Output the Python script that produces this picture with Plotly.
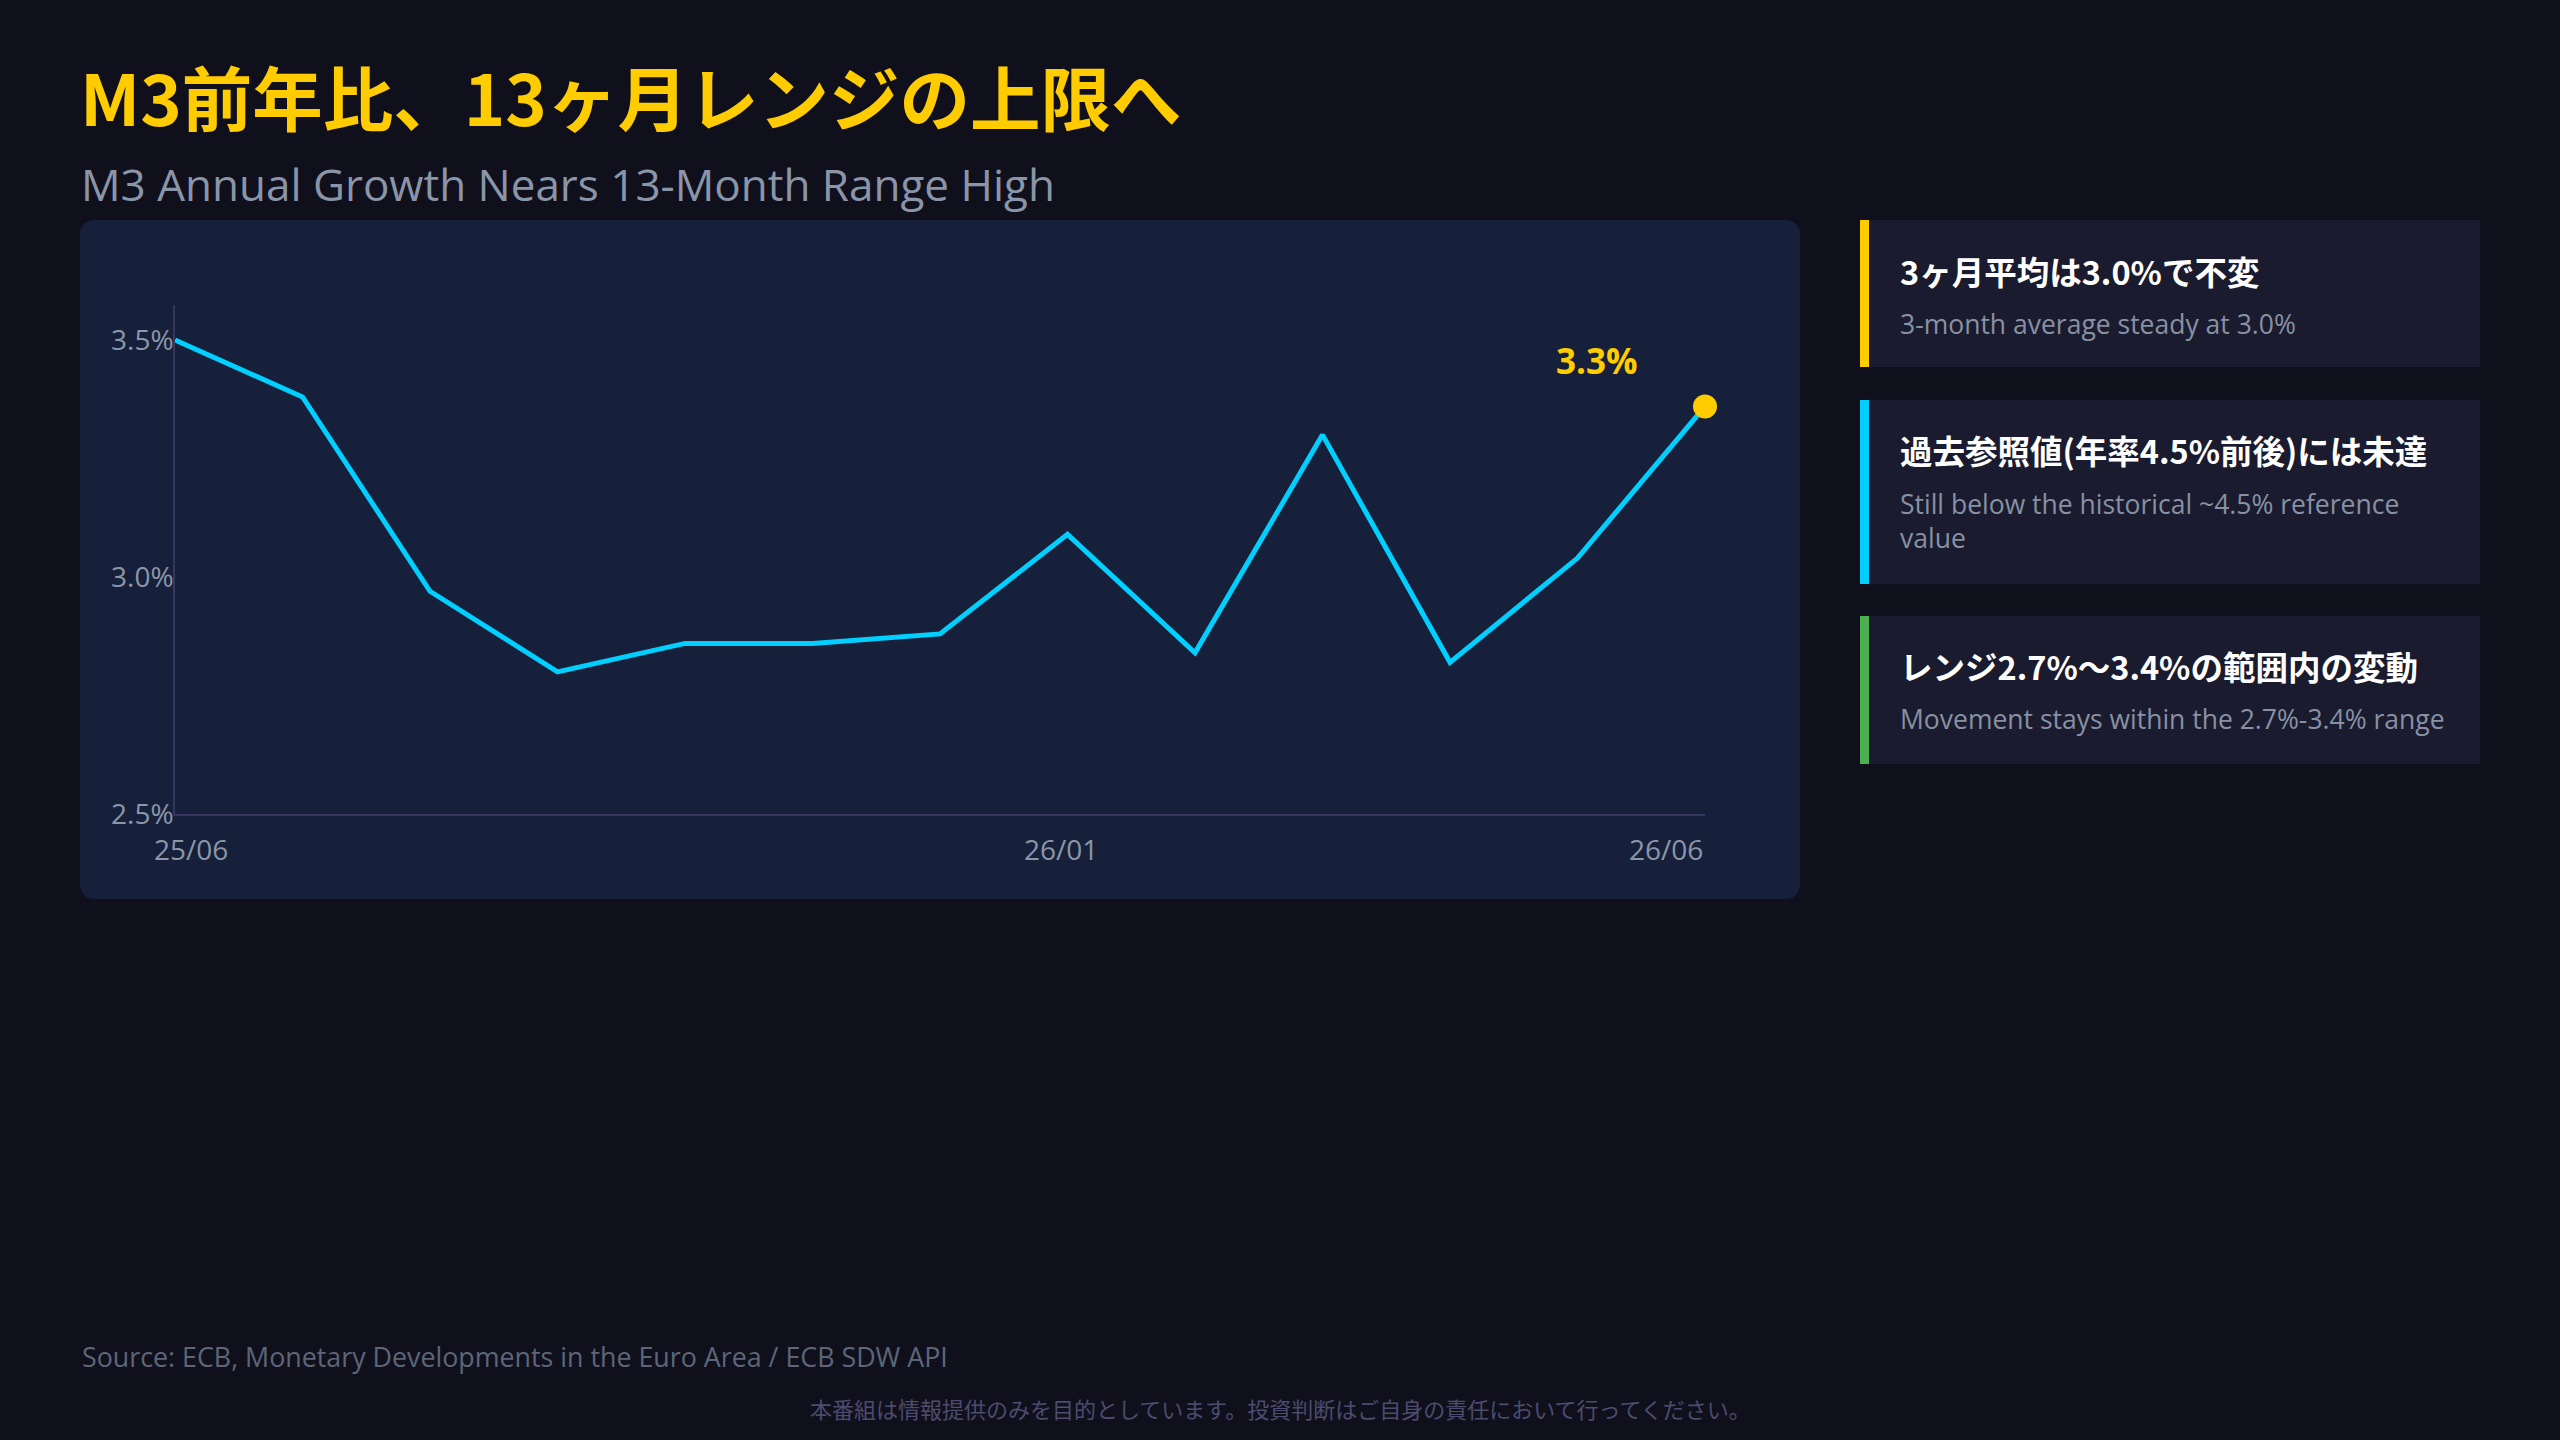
import plotly.graph_objects as go

# ---------------- data ----------------
months = ['25/06', '25/07', '25/08', '25/09', '25/10', '25/11', '25/12',
          '26/01', '26/02', '26/03', '26/04', '26/05', '26/06']
m3_yoy = [3.50, 3.38, 2.97, 2.80, 2.86, 2.86, 2.88, 3.09, 2.84, 3.30, 2.82, 3.04, 3.36]
latest_label = '3.3%'
xtick_idx = [0, 7, 12]
ytick_vals = [2.5, 3.0, 3.5]
ytick_text = ['2.5%', '3.0%', '3.5%']

title_jp = 'M3前年比、13ヶ月レンジの上限へ'
title_en = 'M3 Annual Growth Nears 13-Month Range High'
card_titles = ['3ヶ月平均は3.0%で不変',
               '過去参照値(年率4.5%前後)には未達',
               'レンジ2.7%〜3.4%の範囲内の変動']
card_subs = ['3-month average steady at 3.0%',
             'Still below the historical ~4.5% reference<br>value',
             'Movement stays within the 2.7%-3.4% range']
card_colors = ['#FFCC00', '#00CFFF', '#4CAF50']
source_text = 'Source: ECB, Monetary Developments in the Euro Area / ECB SDW API'
disclaimer = '本番組は情報提供のみを目的としています。投資判断はご自身の責任において行ってください。'

# ---------------- style ----------------
W, H = 2560, 1440
FONT = 'Noto Sans CJK JP, sans-serif'
LFONT = 'Open Sans, Noto Sans CJK JP, sans-serif'
BG = '#10101d'
PANEL = '#16203a'
CARD = '#1a1b2e'
AXIS = '#363560'
TICK = '#8b96a8'
CYAN = '#00CFFF'
YELLOW = '#FFCC00'


def px(x):
    return x / W


def py(y):
    return 1 - y / H


def rounded_rect(x0, y0, x1, y1, r):
    pts = [('M', x0 + r, y0), ('L', x1 - r, y0), ('Q', x1, y0, x1, y0 + r),
           ('L', x1, y1 - r), ('Q', x1, y1, x1 - r, y1), ('L', x0 + r, y1),
           ('Q', x0, y1, x0, y1 - r), ('L', x0, y0 + r), ('Q', x0, y0, x0 + r, y0)]
    s = ''
    for p in pts:
        cmd = p[0]
        coords = p[1:]
        parts = []
        for i in range(0, len(coords), 2):
            parts.append(f'{px(coords[i]):.6f},{py(coords[i + 1]):.6f}')
        s += cmd + ' ' + ' '.join(parts) + ' '
    return s + 'Z'


fig = go.Figure()

fig.add_trace(go.Scatter(
    x=months, y=m3_yoy, mode='lines',
    line=dict(color=CYAN, width=5), hoverinfo='skip', showlegend=False))

fig.add_trace(go.Scatter(
    x=[months[-1]], y=[m3_yoy[-1]], mode='markers',
    marker=dict(color=YELLOW, size=24), cliponaxis=False,
    hoverinfo='skip', showlegend=False))

shapes = []
# chart panel
shapes.append(dict(type='path', path=rounded_rect(80, 220, 1800, 899, 16),
                   xref='paper', yref='paper', fillcolor=PANEL,
                   line=dict(width=0), layer='below'))

# right-hand cards
card_boxes = [(220, 367), (400, 584), (616, 764)]
for (t, b), c in zip(card_boxes, card_colors):
    shapes.append(dict(type='rect', xref='paper', yref='paper',
                       x0=px(1860), x1=px(2480), y0=py(b), y1=py(t),
                       fillcolor=CARD, line=dict(width=0), layer='below'))
    shapes.append(dict(type='rect', xref='paper', yref='paper',
                       x0=px(1860), x1=px(1869), y0=py(b), y1=py(t),
                       fillcolor=c, line=dict(width=0), layer='below'))

ann = []
ann.append(dict(text=f'<b>{title_jp}</b>', x=px(78), y=py(95), xref='paper', yref='paper',
                xanchor='left', yanchor='middle', showarrow=False,
                font=dict(family=FONT, size=70.5, color=YELLOW)))
ann.append(dict(text=title_en, x=px(79), y=py(184), xref='paper', yref='paper',
                xanchor='left', yanchor='middle', showarrow=False,
                font=dict(family=LFONT, size=44, color='#8a95a8')))

title_y = [270, 449, 665]
sub_y = [324, 521, 719]
for i in range(3):
    ann.append(dict(text=f'<b>{card_titles[i]}</b>', x=px(1898), y=py(title_y[i]),
                    xref='paper', yref='paper', xanchor='left', yanchor='middle',
                    showarrow=False, font=dict(family=FONT, size=32.5, color='#ffffff')))
    ann.append(dict(text=card_subs[i], x=px(1898), y=py(sub_y[i]),
                    xref='paper', yref='paper', xanchor='left', yanchor='middle',
                    align='left', showarrow=False,
                    font=dict(family=LFONT, size=26.5, color='#8791a3')))

# x tick labels
x_anchor = ['center', 'center', 'right']
x_shift = [16, -7, 0]
for k, idx in enumerate(xtick_idx):
    ann.append(dict(text=months[idx], x=months[idx], y=py(849), xref='x', yref='paper',
                    xanchor=x_anchor[k], yanchor='middle', xshift=x_shift[k],
                    showarrow=False, font=dict(family=LFONT, size=28, color=TICK)))

# latest value label
ann.append(dict(text=f'<b>{latest_label}</b>', x=months[-1], y=m3_yoy[-1], xref='x', yref='y',
                xanchor='center', yanchor='middle', xshift=-108, yshift=46,
                showarrow=False, font=dict(family=LFONT, size=35, color=YELLOW)))

ann.append(dict(text=source_text, x=px(80), y=py(1356), xref='paper', yref='paper',
                xanchor='left', yanchor='middle', showarrow=False,
                font=dict(family=LFONT, size=26.8, color='#5c6678')))
ann.append(dict(text=disclaimer, x=px(1280), y=py(1408), xref='paper', yref='paper',
                xanchor='center', yanchor='middle', showarrow=False,
                font=dict(family=FONT, size=22, color='#4d4b6e')))

fig.update_layout(
    width=W, height=H, margin=dict(l=0, r=0, t=0, b=0, autoexpand=False),
    paper_bgcolor=BG, plot_bgcolor='rgba(0,0,0,0)',
    shapes=shapes, annotations=ann, showlegend=False,
    xaxis=dict(domain=[px(175), px(1705)], type='category', range=[0, 12],
               showgrid=False, zeroline=False, showline=True, linecolor=AXIS, linewidth=1.5,
               showticklabels=False, ticks='', fixedrange=True),
    yaxis=dict(domain=[py(814), py(305)], range=[2.5, 3.574],
               tickvals=ytick_vals, ticktext=ytick_text, ticks='',
               showgrid=False, zeroline=False, showline=True, linecolor=AXIS, linewidth=1.5,
               ticklabelstandoff=-6,
               tickfont=dict(family=LFONT, size=28, color=TICK), fixedrange=True),
)

post = ("var d=document.documentElement,b=document.body;"
        "d.style.margin='0';d.style.padding='0';d.style.overflow='hidden';"
        "b.style.margin='0';b.style.padding='0';b.style.overflow='hidden';"
        "b.style.background='#10101d';")
fig.write_html('out.html', config={'displayModeBar': False}, post_script=post)
